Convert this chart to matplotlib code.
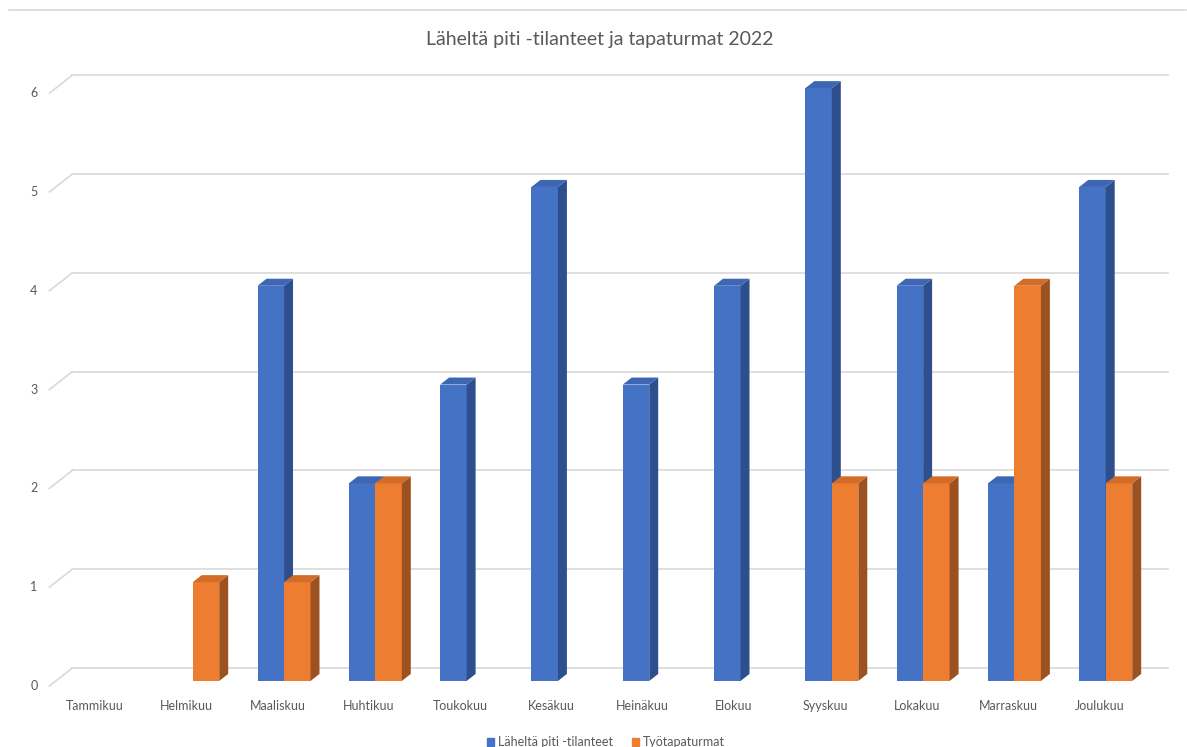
import matplotlib
matplotlib.use("Agg")
import matplotlib.pyplot as plt
from matplotlib.patches import Polygon, Patch

plt.rcParams['font.family'] = ['Lato', 'DejaVu Sans']

months = ['Tammikuu', 'Helmikuu', 'Maaliskuu', 'Huhtikuu', 'Toukokuu', 'Kesäkuu',
          'Heinäkuu', 'Elokuu', 'Syyskuu', 'Lokakuu', 'Marraskuu', 'Joulukuu']
laheltapiti = [0, 0, 4, 2, 3, 5, 3, 4, 6, 4, 2, 5]
tapaturmat = [0, 1, 1, 2, 0, 0, 0, 0, 2, 2, 4, 2]
series_names = ['Läheltä piti -tilanteet', 'Työtapaturmat']
yticks = [0, 1, 2, 3, 4, 5, 6]

# front / side / top face colours per series
faces = [('#4472C4', '#2E4F8E', '#3D66B3'),
         ('#ED7D31', '#9C5120', '#D36C27')]

W, H = 1187, 747
fig = plt.figure(figsize=(W / 100, H / 100), dpi=100)
ax = fig.add_axes([0, 0, 1, 1])
ax.axis('off')

# pixel scale of the plot: 91.3 px per category, 98.8 px per unit
x0px, sx = 95.0, 91.3
y0px, sy = 686.0, 98.8
ax.set_xlim(-x0px / sx, (W - x0px) / sx)
ax.set_ylim(-(H - y0px) / sy, y0px / sy)

# depth of the floor in data units, bar depth range as fraction of it
ddx, ddy = 23 / sx, 18 / sy
d_front, d_back = 0.28, 0.67
bw = 0.29
grid_c = '#D9D9D9'
txt_c = '#595959'

# back wall gridlines and the slanted ticks on the left
for v in yticks:
    ax.plot([-0.5 + ddx, 11.5 + ddx], [v + ddy, v + ddy], color=grid_c, lw=1.2, zorder=1)
    ax.plot([-0.5, -0.5 + ddx], [v, v + ddy], color=grid_c, lw=1.2, zorder=1)
    ax.text(-0.63, v, str(v), ha='right', va='center', fontsize=9, color=txt_c)

fx, fy = d_front * ddx, d_front * ddy
dx, dy = (d_back - d_front) * ddx, (d_back - d_front) * ddy
for s, vals in enumerate([laheltapiti, tapaturmat]):
    front, side, top = faces[s]
    for i, v in enumerate(vals):
        if v == 0:
            continue
        left = i + fx - bw + s * bw
        right = left + bw
        base, tp = fy, v + fy
        z = 3 + i * 2
        ax.bar(left, v, width=bw, bottom=base, align='edge', color=front, lw=0, zorder=z)
        ax.add_patch(Polygon([(right, base), (right + dx, base + dy),
                              (right + dx, tp + dy), (right, tp)],
                             closed=True, color=side, lw=0, zorder=z))
        ax.add_patch(Polygon([(left, tp), (left + dx, tp + dy),
                              (right + dx, tp + dy), (right, tp)],
                             closed=True, color=top, lw=0, zorder=z))

for i, m in enumerate(months):
    ax.text(i, -0.2, m, ha='center', va='center', fontsize=9, color=txt_c)

ax.text((600 - x0px) / sx, (y0px - 39) / sy, 'Läheltä piti -tilanteet ja tapaturmat 2022',
        ha='center', va='center', fontsize=14, color=txt_c)

# chart frame edge along the top
ax.plot([(9 - x0px) / sx, (1186 - x0px) / sx], [(y0px - 10) / sy] * 2,
        color=grid_c, lw=1.2)

handles = [Patch(color=faces[k][0], label=series_names[k]) for k in range(2)]
fig.legend(handles=handles, loc='center', bbox_to_anchor=(606 / W, 1 - 742 / H),
           ncol=2, frameon=False, fontsize=9, handlelength=0.6, handleheight=0.6,
           handletextpad=0.3, columnspacing=1.5, labelcolor=txt_c)

fig.savefig('out.png', dpi=100)
